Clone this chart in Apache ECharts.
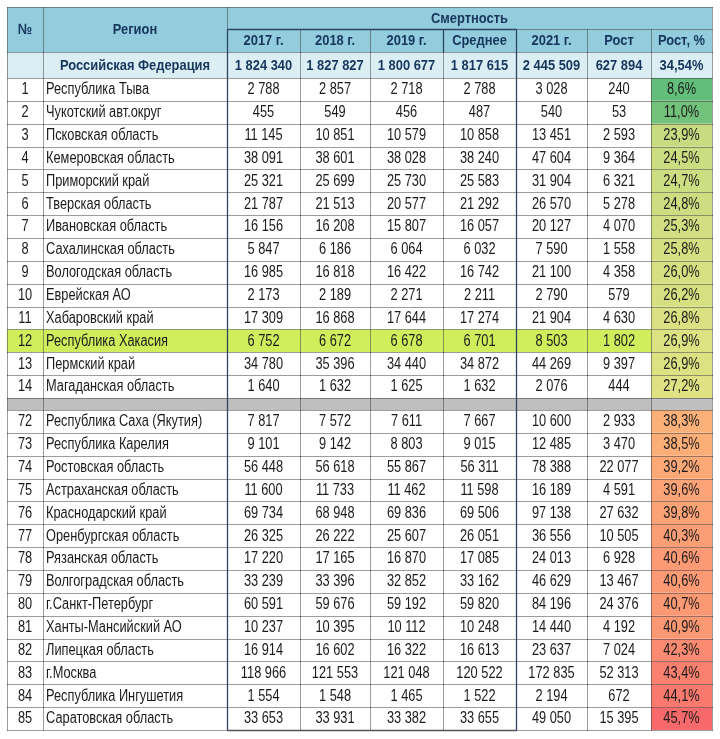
<!DOCTYPE html>
<html>
<head>
<meta charset="utf-8">
<script src="https://cdn.jsdelivr.net/npm/echarts@6/dist/echarts.min.js"></script>
<style>
html,body{margin:0;padding:0;background:#fff;}
#chart{width:720px;height:739px;}
</style>
</head>
<body>
<div id="chart"></div>
<script>
// ---------------- DATA ----------------
const colHeaders = ['2017 г.', '2018 г.', '2019 г.', 'Среднее', '2021 г.', 'Рост', 'Рост, %'];
const groupHeader = 'Смертность';
const rfName = 'Российская Федерация';
const rfValues = [1824340, 1827827, 1800677, 1817615, 2445509, 627894];
const rfPct = 34.54;

const ranks = [1, 2, 3, 4, 5, 6, 7, 8, 9, 10, 11, 12, 13, 14,
  72, 73, 74, 75, 76, 77, 78, 79, 80, 81, 82, 83, 84, 85];
const regions = [
  'Республика Тыва', 'Чукотский авт.округ', 'Псковская область', 'Кемеровская область',
  'Приморский край', 'Тверская область', 'Ивановская область', 'Сахалинская область',
  'Вологодская область', 'Еврейская АО', 'Хабаровский край', 'Республика Хакасия',
  'Пермский край', 'Магаданская область',
  'Республика Саха (Якутия)', 'Республика Карелия', 'Ростовская область', 'Астраханская область',
  'Краснодарский край', 'Оренбургская область', 'Рязанская область', 'Волгоградская область',
  'г.Санкт-Петербург', 'Ханты-Мансийский АО', 'Липецкая область', 'г.Москва',
  'Республика Ингушетия', 'Саратовская область'];
const y2017 = [2788, 455, 11145, 38091, 25321, 21787, 16156, 5847, 16985, 2173, 17309, 6752, 34780, 1640,
  7817, 9101, 56448, 11600, 69734, 26325, 17220, 33239, 60591, 10237, 16914, 118966, 1554, 33653];
const y2018 = [2857, 549, 10851, 38601, 25699, 21513, 16208, 6186, 16818, 2189, 16868, 6672, 35396, 1632,
  7572, 9142, 56618, 11733, 68948, 26222, 17165, 33396, 59676, 10395, 16602, 121553, 1548, 33931];
const y2019 = [2718, 456, 10579, 38028, 25730, 20577, 15807, 6064, 16422, 2271, 17644, 6678, 34440, 1625,
  7611, 8803, 55867, 11462, 69836, 25607, 16870, 32852, 59192, 10112, 16322, 121048, 1465, 33382];
const avgValues = [2788, 487, 10858, 38240, 25583, 21292, 16057, 6032, 16742, 2211, 17274, 6701, 34872, 1632,
  7667, 9015, 56311, 11598, 69506, 26051, 17085, 33162, 59820, 10248, 16613, 120522, 1522, 33655];
const y2021 = [3028, 540, 13451, 47604, 31904, 26570, 20127, 7590, 21100, 2790, 21904, 8503, 44269, 2076,
  10600, 12485, 78388, 16189, 97138, 36556, 24013, 46629, 84196, 14440, 23637, 172835, 2194, 49050];
const growth = [240, 53, 2593, 9364, 6321, 5278, 4070, 1558, 4358, 579, 4630, 1802, 9397, 444,
  2933, 3470, 22077, 4591, 27632, 10505, 6928, 13467, 24376, 4192, 7024, 52313, 672, 15395];
const growthPct = [8.6, 11.0, 23.9, 24.5, 24.7, 24.8, 25.3, 25.8, 26.0, 26.2, 26.8, 26.9, 26.9, 27.2,
  38.3, 38.5, 39.2, 39.6, 39.8, 40.3, 40.6, 40.6, 40.7, 40.9, 42.3, 43.4, 44.1, 45.7];
const highlightRank = 12;

// ---------------- LAYOUT / STYLE ----------------
const COLS = [7, 43, 227, 300, 370, 443, 516, 587, 651, 712];
const Y_H1 = [7, 29], Y_H2 = [29, 52], Y_RF = [52, 78];
const BODY_TOP = 78, ROW_H = (398 - 78) / 14, GAP = 12, SPLIT = 14;
const HDR_BG = '#93CDDD', RF_BG = '#DAEEF3', GAP_BG = '#BFBFBF', HL_BG = '#D0EE5C';
const NAVY = '#17365D', TXT = '#1b1b1b';
const FAM = '"Liberation Sans", Arial, sans-serif';
const hdrFont = 'bold 15px ' + FAM;
const bodyFont = '16px ' + FAM;
const SX_HDR = 0.86, SX_BODY = 0.8;

const fmt = n => String(n).replace(/\B(?=(\d{3})+(?!\d))/g, ' ');
const fmtPct = (p, d) => p.toFixed(d).replace('.', ',') + '%';

const cells = [];     // ordinary cells
const pctCells = [];  // colour-scaled cells
function cell(c0, c1, y0, y1, text, o) {
  return Object.assign({ x0: COLS[c0], x1: COLS[c1], c0: c0, y0: y0, y1: y1, text: text,
    bg: '#fff', font: bodyFont, color: TXT, align: 'center', sx: SX_BODY }, o || {});
}
const hdr = { bg: HDR_BG, font: hdrFont, color: NAVY, sx: SX_HDR };
cells.push(cell(0, 1, Y_H1[0], Y_H2[1], '№', hdr));
cells.push(cell(1, 2, Y_H1[0], Y_H2[1], 'Регион', hdr));
cells.push(cell(2, 9, Y_H1[0], Y_H1[1], groupHeader, hdr));
colHeaders.forEach((h, k) => cells.push(cell(2 + k, 3 + k, Y_H2[0], Y_H2[1], h, hdr)));
const rf = { bg: RF_BG, font: hdrFont, color: NAVY, sx: SX_HDR };
cells.push(cell(0, 1, Y_RF[0], Y_RF[1], '', rf));
cells.push(cell(1, 2, Y_RF[0], Y_RF[1], rfName, rf));
rfValues.forEach((v, k) => cells.push(cell(2 + k, 3 + k, Y_RF[0], Y_RF[1], fmt(v), rf)));
cells.push(cell(8, 9, Y_RF[0], Y_RF[1], fmtPct(rfPct, 2), rf));

const lastRowY1 = [];
ranks.forEach((r, i) => {
  const y0 = BODY_TOP + i * ROW_H + (i >= SPLIT ? GAP : 0);
  const y1 = y0 + ROW_H;
  const o = { bg: r === highlightRank ? HL_BG : '#fff', last: i === ranks.length - 1 };
  cells.push(cell(0, 1, y0, y1, String(r), o));
  cells.push(cell(1, 2, y0, y1, regions[i], Object.assign({ align: 'left' }, o)));
  [y2017, y2018, y2019, avgValues, y2021, growth].forEach((arr, k) =>
    cells.push(cell(2 + k, 3 + k, y0, y1, fmt(arr[i]), o)));
  pctCells.push(cell(8, 9, y0, y1, fmtPct(growthPct[i], 1), { pct: growthPct[i], last: o.last }));
});
// separator row between the two blocks
const gy0 = BODY_TOP + SPLIT * ROW_H;
for (let c = 0; c < 9; c++) cells.push(cell(c, c + 1, gy0, gy0 + GAP, '', { bg: GAP_BG }));

const allCells = cells.concat(pctCells);

// colour scale (green - yellow - red, midpoint at 50th percentile ≈ 32.2%)
const pMin = 8.6, pMax = 45.7, pMid = 32.2;
const G = '#63BE7B', YL = '#FFEB84', RD = '#F8696B';
const N = 12, midIdx = 7;
const scaleColors = [];
for (let i = 0; i < N; i++) {
  scaleColors.push(i <= midIdx
    ? echarts.color.lerp(i / midIdx, [G, YL])
    : echarts.color.lerp((i - midIdx) / (N - 1 - midIdx), [YL, RD]));
}

function box(api) {
  const p0 = api.coord([api.value(0), api.value(1)]);
  const p1 = api.coord([api.value(2), api.value(3)]);
  return { x: p0[0], y: p0[1], w: p1[0] - p0[0], h: p1[1] - p0[1] };
}
function drawCell(c, b, fill) {
  const ch = [{ type: 'rect', shape: { x: b.x, y: b.y, width: b.w, height: b.h },
    style: { fill: fill }, silent: true }];
  if (c.text) {
    const tx = c.align === 'left' ? b.x + 3 : b.x + b.w / 2;
    ch.push({ type: 'text', x: tx, y: b.y + b.h / 2 + 0.5, scaleX: c.sx, silent: true,
      style: { text: c.text, font: c.font, fill: c.color, align: c.align, verticalAlign: 'middle' } });
  }
  return { type: 'group', children: ch };
}
const r5 = v => Math.round(v) + 0.5;
function dotted(x1, y1, x2, y2) {
  return { type: 'line', silent: true, shape: { x1: x1, y1: y1, x2: x2, y2: y2 },
    style: { stroke: '#3a3a3a', lineWidth: 1, lineDash: [1, 1] } };
}
function solid(x1, y1, x2, y2, col) {
  return { type: 'line', silent: true, shape: { x1: x1, y1: y1, x2: x2, y2: y2 },
    style: { stroke: col || '#2E4466', lineWidth: 1.3 } };
}

const option = {
  animation: false,
  backgroundColor: '#fff',
  grid: { left: 0, right: 0, top: 0, bottom: 0 },
  xAxis: { type: 'value', min: 0, max: 720, show: false },
  yAxis: { type: 'value', min: 0, max: 739, inverse: true, show: false },
  visualMap: { show: false, type: 'continuous', seriesIndex: 1, dimension: 4,
    min: pMin, max: pMax, inRange: { color: scaleColors } },
  series: [
    { type: 'custom', name: 'cells', encode: { x: [0, 2], y: [1, 3] },
      data: cells.map(c => [c.x0, c.y0, c.x1, c.y1]),
      renderItem: (params, api) => drawCell(cells[params.dataIndex], box(api), cells[params.dataIndex].bg) },
    { type: 'custom', name: 'pct', encode: { x: [0, 2], y: [1, 3] },
      data: pctCells.map(c => [c.x0, c.y0, c.x1, c.y1, c.pct]),
      renderItem: (params, api) => drawCell(pctCells[params.dataIndex], box(api), api.visual('color')) },
    { type: 'custom', name: 'borders', z: 10, encode: { x: [0, 2], y: [1, 3] },
      data: allCells.map(c => [c.x0, c.y0, c.x1, c.y1]),
      renderItem: (params, api) => {
        const c = allCells[params.dataIndex];
        const b = box(api);
        const L = r5(b.x), R = r5(b.x + b.w), T = r5(b.y), B = r5(b.y + b.h);
        const ch = [dotted(L, B, R, B), dotted(R, T, R, B)];
        if (c.c0 === 0) ch.push(dotted(L, T, L, B));
        if (c.y0 <= Y_H1[0]) ch.push(dotted(L, T, R, T));
        if (c.y0 >= Y_H2[0] && (c.c0 === 2 || c.c0 === 6)) ch.push(solid(L, T, L, B));
        if (c.y0 === Y_H2[0] && c.c0 === 5) ch.push(solid(L, T, L, B));
        if (c.y0 === Y_H2[0] && c.c0 >= 2 && c.c0 <= 5) ch.push(solid(L, T, R, T));
        if (c.last && c.c0 >= 2 && c.c0 <= 5) ch.push(solid(L, B, R, B, '#555'));
        return { type: 'group', children: ch };
      } }
  ]
};
const chart = echarts.init(document.getElementById('chart'), null, { renderer: 'canvas' });
chart.setOption(option);
</script>
</body>
</html>
